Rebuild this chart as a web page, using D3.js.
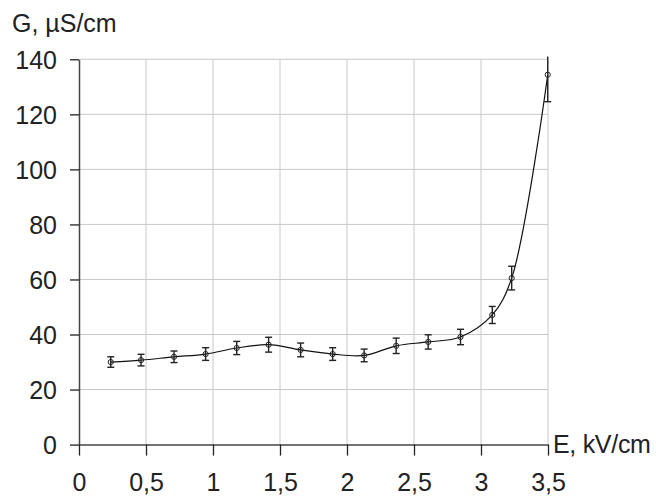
<!DOCTYPE html>
<html>
<head>
<meta charset="utf-8">
<script src="https://cdn.jsdelivr.net/npm/d3@7"></script>
<style>
    body { margin: 0; background: #fff; }
    svg text { font-family: "Liberation Sans", Arial, sans-serif; fill: #222; }
</style>
</head>
<body>
<div id="chartId"></div>
<script>
/*
Chart data
*/
const field_kv = [0.237, 0.463, 0.709, 0.945, 1.177, 1.415, 1.654, 1.893, 2.128, 2.367, 2.606, 2.847, 3.084, 3.229, 3.498];
const conductance = [30.0, 30.7, 31.9, 32.9, 35.1, 36.3, 34.4, 32.9, 32.4, 35.9, 37.3, 39.1, 47.1, 60.5, 134.4];
const error_bars = [1.9, 2.1, 2.1, 2.3, 2.4, 2.7, 2.5, 2.3, 2.3, 2.8, 2.6, 2.8, 3.1, 4.3, 9.8];
const x_ticks = [0, 0.5, 1, 1.5, 2, 2.5, 3, 3.5];
const x_tick_labels = ["0", "0,5", "1", "1,5", "2", "2,5", "3", "3,5"];
const y_ticks = [0, 20, 40, 60, 80, 100, 120, 140];

/*
Layout
*/
const width = 656, height = 497;
const plot_left = 79, plot_right = 548, plot_top = 59.3, plot_bottom = 444.6;
const font_size = 25;

const x = d3.scaleLinear().domain([0, 3.5]).range([plot_left, plot_right]);
const y = d3.scaleLinear().domain([0, 140]).range([plot_bottom, plot_top]);

var svg = d3.select("div#chartId")
    .append("svg")
    .attr("width", width)
    .attr("height", height);

/*
Grid
*/
var g_grid = svg.append("g").attr("stroke", "#c8c8c8").attr("stroke-width", 1);

g_grid.selectAll("line.v").data(x_ticks.slice(1))
    .enter().append("line").classed("v", true)
    .attr("x1", d => x(d)).attr("x2", d => x(d))
    .attr("y1", y(140)).attr("y2", y(0));

g_grid.selectAll("line.h").data(y_ticks.slice(1))
    .enter().append("line").classed("h", true)
    .attr("x1", x(0)).attr("x2", x(3.5))
    .attr("y1", d => y(d)).attr("y2", d => y(d));

/*
Axes
*/
var y_axis = d3.axisLeft(y).tickValues(y_ticks).tickSize(9).tickSizeOuter(0).tickPadding(13);
var x_axis = d3.axisBottom(x).tickValues(x_ticks).tickSize(11).tickSizeOuter(0).tickPadding(18)
    .tickFormat((d, i) => x_tick_labels[i]);

var g_y = svg.append("g").attr("transform", `translate(${plot_left},0)`).call(y_axis);
var g_x = svg.append("g").attr("transform", `translate(0,${plot_bottom})`).call(x_axis);

[g_x, g_y].forEach(g => {
    g.select(".domain").attr("stroke", "#444").attr("stroke-width", 1.5);
    g.selectAll(".tick line").attr("stroke", "#222").attr("stroke-width", 1.3);
    g.selectAll(".tick text")
        .attr("font-size", font_size)
        .attr("font-family", "Liberation Sans, Arial, sans-serif")
        .attr("fill", "#222");
});
g_y.selectAll(".tick text").attr("dy", "0.36em");

/*
Axis titles
*/
svg.append("text")
    .attr("x", 12).attr("y", 32)
    .attr("font-size", font_size)
    .text("G, \u00B5S/cm");

svg.append("text")
    .attr("x", 553).attr("y", 453)
    .attr("font-size", font_size)
    .attr("letter-spacing", "-0.3")
    .text("E, kV/cm");

/*
Series
*/
const points = field_kv.map((v, i) => ({ e: v, g: conductance[i], err: error_bars[i] }));

var line = d3.line()
    .x(d => x(d.e))
    .y(d => y(d.g))
    .curve(d3.curveCatmullRom.alpha(0.5));

svg.append("path")
    .datum(points)
    .attr("fill", "none")
    .attr("stroke", "#111")
    .attr("stroke-width", 1.2)
    .attr("d", line);

var g_err = svg.append("g").attr("stroke", "#222").attr("stroke-width", 1.4);
const cap = 3.5;
const y_top_limit = 141;

g_err.selectAll("line.bar").data(points)
    .enter().append("line").classed("bar", true)
    .attr("x1", d => x(d.e)).attr("x2", d => x(d.e))
    .attr("y1", d => y(d.g - d.err))
    .attr("y2", d => y(Math.min(d.g + d.err, y_top_limit)));

g_err.selectAll("line.lo").data(points)
    .enter().append("line").classed("lo", true)
    .attr("x1", d => x(d.e) - cap).attr("x2", d => x(d.e) + cap)
    .attr("y1", d => y(d.g - d.err)).attr("y2", d => y(d.g - d.err));

g_err.selectAll("line.hi").data(points.filter(d => d.g + d.err <= y_top_limit))
    .enter().append("line").classed("hi", true)
    .attr("x1", d => x(d.e) - cap).attr("x2", d => x(d.e) + cap)
    .attr("y1", d => y(d.g + d.err)).attr("y2", d => y(d.g + d.err));

svg.append("g").selectAll("circle").data(points)
    .enter().append("circle")
    .attr("cx", d => x(d.e))
    .attr("cy", d => y(d.g))
    .attr("r", 2.6)
    .attr("fill", "none")
    .attr("stroke", "#222")
    .attr("stroke-width", 1);
</script>
</body>
</html>
